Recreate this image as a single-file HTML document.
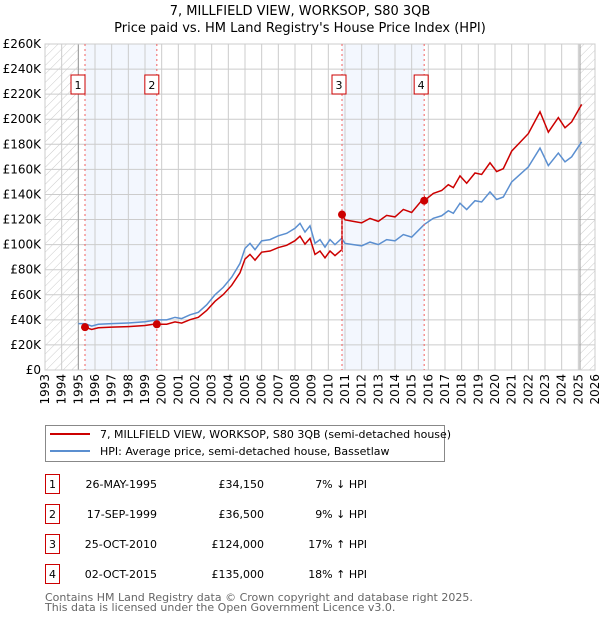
<!DOCTYPE html>
<html><head><meta charset="utf-8"><style>
body{margin:0;background:#fff;font-family:"DejaVu Sans","Liberation Sans",sans-serif;}
svg text{font-family:"DejaVu Sans","Liberation Sans",sans-serif;}
</style></head><body>
<svg id="c" width="600" height="620" xmlns="http://www.w3.org/2000/svg">
<defs><pattern id="h" width="6" height="6" patternUnits="userSpaceOnUse" patternTransform="rotate(45)"><line x1="0" y1="0" x2="0" y2="6" stroke="#ccc" stroke-width="1"/></pattern></defs>
<text x="300" y="15" text-anchor="middle" font-size="13">7, MILLFIELD VIEW, WORKSOP, S80 3QB</text>
<text x="300" y="32" text-anchor="middle" font-size="13">Price paid vs. HM Land Registry's House Price Index (HPI)</text>
<g id="plot"></g>
<g>
<rect x="45.5" y="425.5" width="399" height="36" fill="#fff" stroke="#888"/>
<line x1="50" y1="434" x2="90" y2="434" stroke="#cc0000" stroke-width="2"/>
<text x="100" y="438" font-size="11">7, MILLFIELD VIEW, WORKSOP, S80 3QB (semi-detached house)</text>
<line x1="50" y1="451" x2="90" y2="451" stroke="#5b8fd0" stroke-width="2"/>
<text x="100" y="455" font-size="11">HPI: Average price, semi-detached house, Bassetlaw</text>
</g>
<g id="tbl" font-size="11"></g>
<text x="45" y="601" font-size="11" fill="#666">Contains HM Land Registry data © Crown copyright and database right 2025.</text>
<text x="45" y="611" font-size="11" fill="#666">This data is licensed under the Open Government Licence v3.0.</text>
</svg>
<script>
const hpiYears=[1995.0,1995.4,1995.8,1996.2,1997,1998,1999,1999.7,2000.3,2000.8,2001.2,2001.7,2002.2,2002.7,2003.2,2003.7,2004.2,2004.7,2005,2005.3,2005.6,2006,2006.5,2007,2007.5,2008,2008.3,2008.6,2008.9,2009.2,2009.5,2009.8,2010.1,2010.4,2010.8,2011,2011.5,2012,2012.5,2013,2013.5,2014,2014.5,2015,2015.75,2016.3,2016.8,2017.2,2017.5,2017.9,2018.3,2018.8,2019.2,2019.7,2020.1,2020.5,2021,2021.5,2022,2022.7,2023.2,2023.8,2024.2,2024.6,2025.0,2025.2];
const hpiValues=[37,37,35,36.5,37,37.5,38.5,40,40,42,41,44,46,52,60,66,74,85,97,101,96,103,104,107,109,113,117,110,115,101,104,98,104,100,105,101,100,99,102,100,104,103,108,106,116,121,123,127,125,133,128,135,134,142,136,138,150,156,162,177,163,173,166,170,178,182];
const saleYears=[1995.4,1999.71,2010.82,2015.75];
const salePrices=[34150,36500,124000,135000];
const saleDates=["26-MAY-1995","17-SEP-1999","25-OCT-2010","02-OCT-2015"];
const saleLabels=["£34,150","£36,500","£124,000","£135,000"];
const saleDiffs=["7% ↓ HPI","9% ↓ HPI","17% ↑ HPI","18% ↑ HPI"];
const yTicks=[0,20,40,60,80,100,120,140,160,180,200,220,240,260];
const xTicks=[1993,1994,1995,1996,1997,1998,1999,2000,2001,2002,2003,2004,2005,2006,2007,2008,2009,2010,2011,2012,2013,2014,2015,2016,2017,2018,2019,2020,2021,2022,2023,2024,2025,2026];
const NS="http://www.w3.org/2000/svg";
const X=y=>45+(y-1993)*550/33, Y=v=>370-v*326/260;
function mk(p,t,a){const e=document.createElementNS(NS,t);for(const k in a)e.setAttribute(k,a[k]);p.appendChild(e);return e;}
const g=document.getElementById('plot');
function hpiAt(t){for(let i=1;i<hpiYears.length;i++){if(t<=hpiYears[i]){const f=(t-hpiYears[i-1])/(hpiYears[i]-hpiYears[i-1]);return hpiValues[i-1]+f*(hpiValues[i]-hpiValues[i-1]);}}return hpiValues[hpiValues.length-1];}
// bands
for(let i=0;i<4;i+=2){const r=mk(g,'rect',{x:X(saleYears[i]),y:44,width:X(saleYears[i+1])-X(saleYears[i]),height:326,fill:'#eef3fd',opacity:0.7});

}
const h1=mk(g,'rect',{x:45,y:44,width:X(1995)-45,height:326,fill:'url(#h)'});


const h2=mk(g,'rect',{x:X(2025.1),y:44,width:595-X(2025.1),height:326,fill:'url(#h)'});


yTicks.forEach(v=>{mk(g,'line',{x1:45,x2:595,y1:Y(v),y2:Y(v),stroke:'#ccc'});
const t=mk(g,'text',{x:41,y:Y(v)+4,'text-anchor':'end','font-size':12});t.textContent=v===0?'£0':'£'+v+'K';

});
xTicks.forEach(y=>{mk(g,'line',{x1:X(y),x2:X(y),y1:44,y2:370,stroke:'#ccc'});
const t=mk(g,'text',{x:X(y)+4,y:374,'text-anchor':'end','font-size':12,transform:`rotate(-90 ${X(y)+4} 374)`});t.textContent=y;

});
mk(g,'line',{x1:X(1995),x2:X(1995),y1:44,y2:370,stroke:'#999'});
mk(g,'line',{x1:X(2025.1),x2:X(2025.1),y1:44,y2:370,stroke:'#999'});
mk(g,'rect',{x:45,y:44,width:550,height:326,fill:'none',stroke:'#ccc'});
// hpi line
const hp=mk(g,'polyline',{points:hpiYears.map((y,i)=>X(y)+','+Y(hpiValues[i])).join(' '),fill:'none',stroke:'#5b8fd0','stroke-width':1.5});


// red line
let pts=[];
for(let s=0;s<saleYears.length;s++){const f=salePrices[s]/1000/hpiAt(saleYears[s]);const end=s+1<saleYears.length?saleYears[s+1]:2025.2;
pts.push(X(saleYears[s])+','+Y(salePrices[s]/1000));
hpiYears.forEach((y,i)=>{if(y>saleYears[s]&&y<end)pts.push(X(y)+','+Y(hpiValues[i]*f));});
pts.push(X(end)+','+Y(hpiAt(end)*f));}
const rl=mk(g,'polyline',{points:pts.join(' '),fill:'none',stroke:'#cc0000','stroke-width':1.5});


saleYears.forEach((y,i)=>{mk(g,'line',{x1:X(y),x2:X(y),y1:44,y2:370,stroke:'#f06060','stroke-dasharray':'2,3'});
const d=mk(g,'circle',{cx:X(y),cy:Y(salePrices[i]/1000),r:4,fill:'#cc0000'});


const bx=mk(g,'rect',{x:X(y)-22+7,y:75,width:14,height:19,fill:'#fff',stroke:'#cc0000'});
bx.setAttribute('x',X(y)-(i<2?14:10)-(i==1?-2:0));


const t=mk(g,'text',{x:+bx.getAttribute('x')+7,y:89,'text-anchor':'middle','font-size':11});t.textContent=i+1;

});
const tb=document.getElementById('tbl');
saleDates.forEach((d,i)=>{const cy=484+i*30;
const r=mk(tb,'rect',{x:45.5,y:cy-9.5,width:14,height:19,fill:'none',stroke:'#cc0000'});


const n=mk(tb,'text',{x:52.5,y:cy+4,'text-anchor':'middle'});n.textContent=i+1;


const a=mk(tb,'text',{x:157,y:cy+4,'text-anchor':'end'});a.textContent=d;


const b=mk(tb,'text',{x:264,y:cy+4,'text-anchor':'end'});b.textContent=saleLabels[i];


const c=mk(tb,'text',{x:367,y:cy+4,'text-anchor':'end'});c.textContent=saleDiffs[i];

});
</script>
</body></html>
